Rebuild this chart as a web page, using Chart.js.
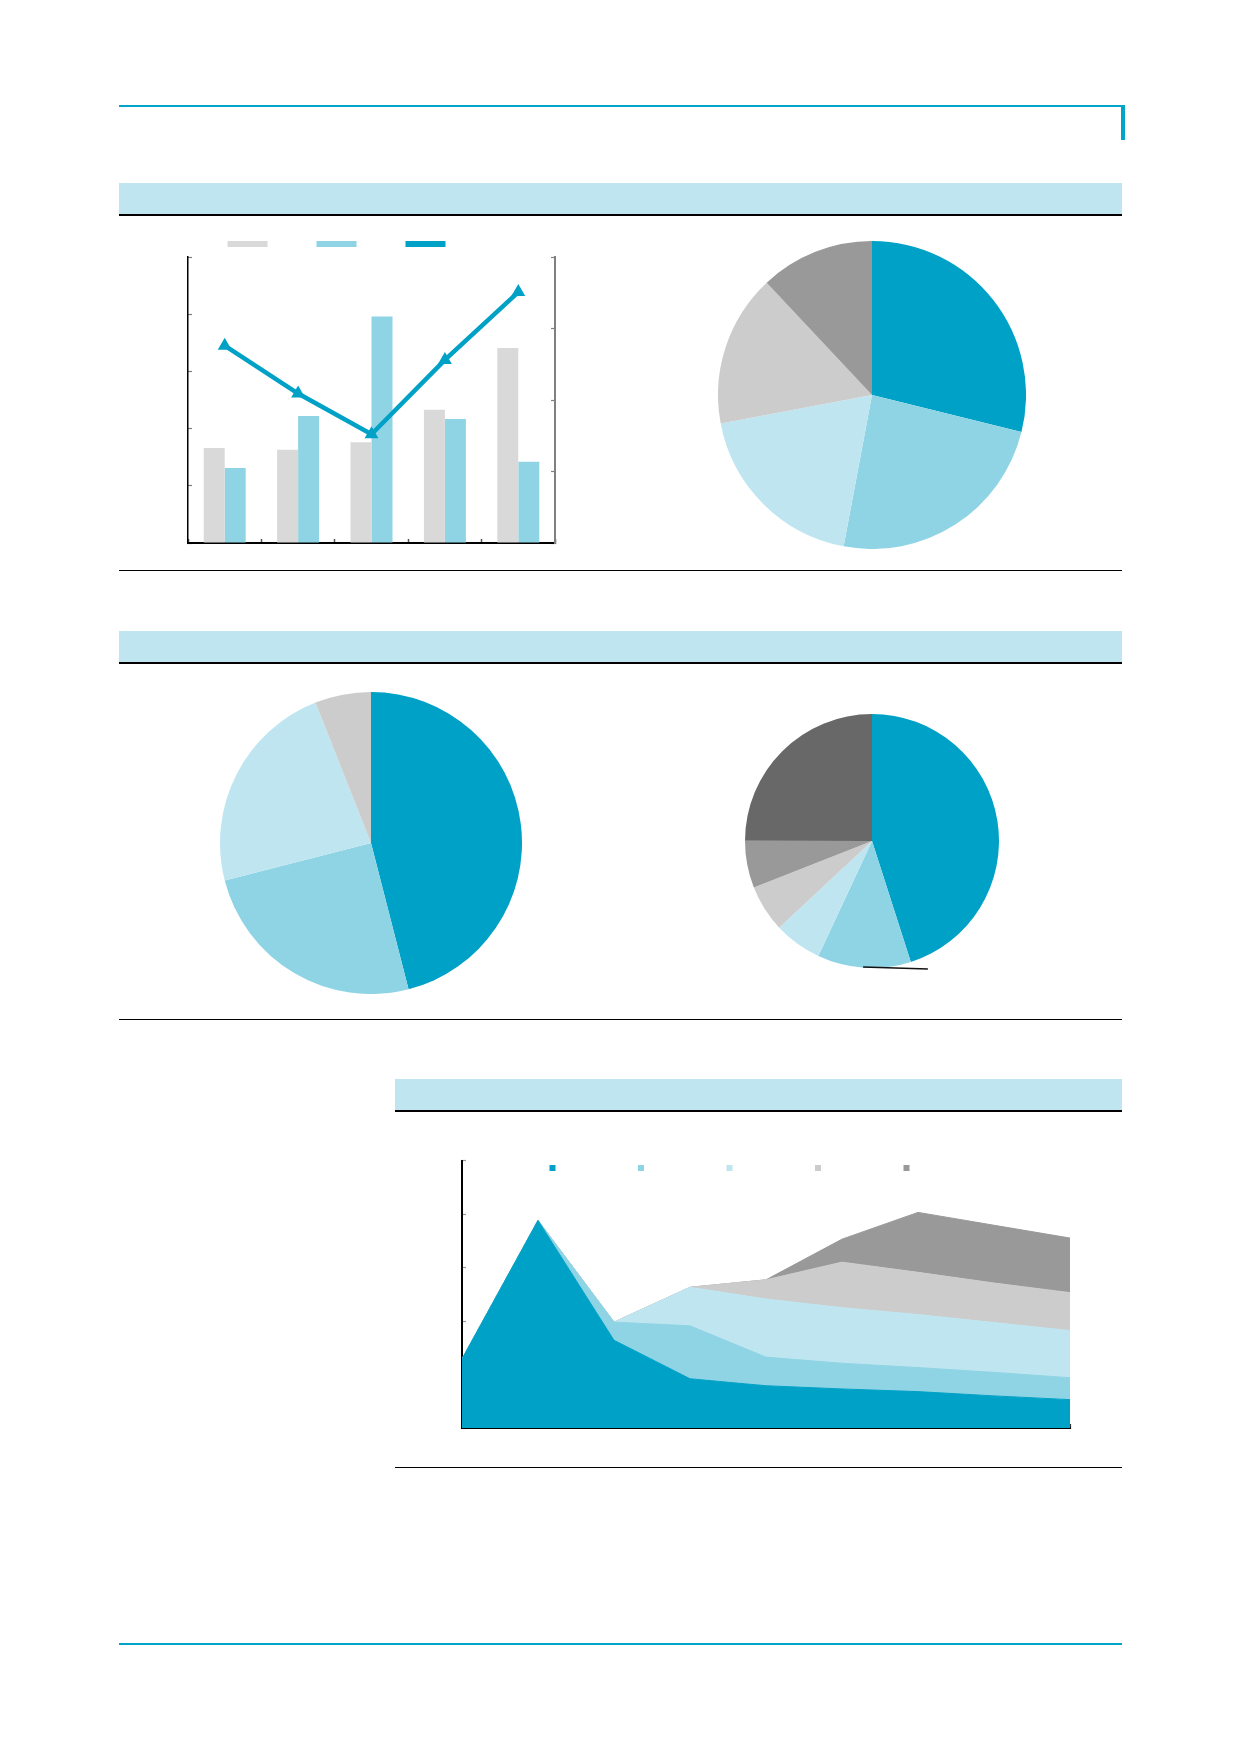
<!DOCTYPE html>
<html>
<head>
<meta charset="utf-8">
<script src="https://cdn.jsdelivr.net/npm/chart.js@4.4.0/dist/chart.umd.min.js"></script>
<style>
  html, body { margin: 0; padding: 0; background: #fff; }
  #page { position: relative; width: 1240px; height: 1754px; overflow: hidden; font-family: "Noto Sans", sans-serif; }
  .r { position: absolute; }
  canvas { position: absolute; }
</style>
</head>
<body>
<div id="page">
  <!-- header -->
  <div class="r" style="left:119px;top:105px;width:1006px;height:2px;background:#00a5c8"></div>
  <div class="r" style="left:1121px;top:105px;width:4px;height:35px;background:#00a5c8"></div>

  <!-- section 1 -->
  <div class="r" style="left:119px;top:183px;width:1003px;height:32px;background:#bfe6f0"></div>
  <div class="r" style="left:119px;top:214px;width:1003px;height:2px;background:#000"></div>
  <div class="r" style="left:119px;top:570px;width:1003px;height:1px;background:#000"></div>

  <!-- section 2 -->
  <div class="r" style="left:119px;top:631px;width:1003px;height:32px;background:#bfe6f0"></div>
  <div class="r" style="left:119px;top:662px;width:1003px;height:2px;background:#000"></div>
  <div class="r" style="left:119px;top:1019px;width:1003px;height:1px;background:#000"></div>

  <!-- section 3 -->
  <div class="r" style="left:395px;top:1079px;width:727px;height:32px;background:#bfe6f0"></div>
  <div class="r" style="left:395px;top:1110px;width:727px;height:2px;background:#000"></div>
  <div class="r" style="left:395px;top:1467px;width:727px;height:1px;background:#000"></div>

  <!-- footer -->
  <div class="r" style="left:119px;top:1643px;width:1003px;height:2px;background:#00a5c8"></div>

  <canvas id="bar" width="444" height="353" style="left:116px;top:195px"></canvas>
  <canvas id="pie1" width="308" height="308" style="left:718px;top:241px"></canvas>
  <canvas id="pie2" width="302" height="302" style="left:220px;top:692px"></canvas>
  <canvas id="pie3" width="274" height="274" style="left:735px;top:704px"></canvas>
  <canvas id="area" width="680" height="370" style="left:395px;top:1062px"></canvas>
</div>

<script>
// ---------- data ----------
const barCategories = ['C1', 'C2', 'C3', 'C4', 'C5'];
const barSeriesGray = [1.66, 1.63, 1.76, 2.33, 3.41];
const barSeriesBlue = [1.31, 2.22, 3.96, 2.17, 1.42];
const lineSeries    = [2.76, 2.09, 1.52, 2.56, 3.51];

const pie1Categories = ['S1', 'S2', 'S3', 'S4', 'S5'];
const pie1Values     = [28.9, 24.1, 19.1, 16.0, 12.0];

const pie2Categories = ['S1', 'S2', 'S3', 'S4'];
const pie2Values     = [46.0, 25.0, 23.0, 6.0];

const pie3Categories = ['S1', 'S2', 'S3', 'S4', 'S5', 'S6'];
const pie3Values     = [45.1, 11.9, 6.1, 6.0, 6.0, 25.0];

const areaCategories = ['P1', 'P2', 'P3', 'P4', 'P5', 'P6', 'P7', 'P8', 'P9'];
const areaSeries1 = [1.29, 3.88, 1.64, 0.92, 0.79, 0.73, 0.68, 0.60, 0.53];
const areaSeries2 = [0, 0, 0.34, 0.99, 0.535, 0.48, 0.45, 0.44, 0.41];
const areaSeries3 = [0, 0, 0, 0.72, 1.085, 1.04, 0.99, 0.93, 0.88];
const areaSeries4 = [0, 0, 0, 0, 0.36, 0.85, 0.79, 0.74, 0.71];
const areaSeries5 = [0, 0, 0, 0, 0, 0.43, 1.12, 1.08, 1.02];

// ---------- colours ----------
const TEAL = '#00a1c6', MID = '#8fd4e4', LIGHT = '#bfe6f0', LGRAY = '#cccccc', MGRAY = '#999999', DGRAY = '#686868', BARGRAY = '#d9d9d9';

Chart.defaults.font.family = '"Noto Sans", sans-serif';

const noStrokeLabels = (chart) => {
  const items = Chart.defaults.plugins.legend.labels.generateLabels(chart);
  items.forEach(i => { i.lineWidth = 0; });
  return items;
};

// ---------- bar + line ----------
new Chart(document.getElementById('bar'), {
  type: 'bar',
  data: {
    labels: barCategories,
    datasets: [
      { label: '', data: barSeriesGray, backgroundColor: BARGRAY, yAxisID: 'y', order: 1,
        categoryPercentage: 0.572, barPercentage: 1.0 },
      { label: '', data: barSeriesBlue, backgroundColor: MID, yAxisID: 'y', order: 1,
        categoryPercentage: 0.572, barPercentage: 1.0 },
      { type: 'line', label: '', data: lineSeries, yAxisID: 'y1', order: 0,
        borderColor: TEAL, backgroundColor: TEAL, borderWidth: 4.5, tension: 0,
        pointStyle: 'triangle', pointRadius: 8, pointBackgroundColor: TEAL,
        pointBorderColor: TEAL, pointBorderWidth: 0 }
    ]
  },
  options: {
    responsive: false, animation: false, events: [],
    layout: { padding: 0, autoPadding: false },
    plugins: {
      tooltip: { enabled: false },
      legend: {
        position: 'top', align: 'center',
        labels: { boxWidth: 40, boxHeight: 6, padding: 46, font: { size: 6 },
          generateLabels: noStrokeLabels, sort: (a, b) => a.datasetIndex - b.datasetIndex }
      }
    },
    scales: {
      x: {
        ticks: { display: false },
        grid: { drawOnChartArea: false, offset: true, tickLength: -4, tickColor: '#555', tickWidth: 1.5 },
        border: { color: '#000', width: 2 },
        afterFit(s) { s.height = 5; }
      },
      y: {
        position: 'left', min: 0, max: 5,
        ticks: { display: false, stepSize: 1 },
        grid: { drawOnChartArea: false, tickLength: -4, tickColor: '#808080', tickWidth: 1.2 },
        border: { color: '#000', width: 1.5 },
        afterFit(s) { s.width = 72; }
      },
      y1: {
        position: 'right', min: 0, max: 4,
        ticks: { display: false, stepSize: 1 },
        grid: { drawOnChartArea: false, tickLength: -4, tickColor: '#808080', tickWidth: 1.2 },
        border: { color: '#808080', width: 2 },
        afterFit(s) { s.width = 5; }
      }
    }
  }
});

// ---------- pies ----------
function makePie(id, labels, values, colors, padding, plugins) {
  return new Chart(document.getElementById(id), {
    type: 'pie',
    data: { labels, datasets: [{ data: values, backgroundColor: colors, borderWidth: 0 }] },
    options: {
      responsive: false, animation: false, events: [],
      layout: { padding },
      plugins: { legend: { display: false }, tooltip: { enabled: false } }
    },
    plugins: plugins || []
  });
}

const leaderLine = {
  id: 'leaderLine',
  afterDatasetsDraw(chart) {
    const arc = chart.getDatasetMeta(0).data[0];
    const { x, y, outerRadius } = arc.getProps(['x', 'y', 'outerRadius'], true);
    const ctx = chart.ctx;
    ctx.save();
    ctx.strokeStyle = '#111';
    ctx.lineWidth = 1.6;
    ctx.beginPath();
    ctx.moveTo(x - outerRadius * 0.07, y + outerRadius - 1);
    ctx.lineTo(x + outerRadius * 0.44, y + outerRadius + 1);
    ctx.stroke();
    ctx.restore();
  }
};

makePie('pie1', pie1Categories, pie1Values, [TEAL, MID, LIGHT, LGRAY, MGRAY], 0);
makePie('pie2', pie2Categories, pie2Values, [TEAL, MID, LIGHT, LGRAY], 0);
makePie('pie3', pie3Categories, pie3Values, [TEAL, MID, LIGHT, LGRAY, MGRAY, DGRAY], 10, [leaderLine]);

// ---------- stacked area ----------
const legendShift = {
  id: 'legendShift',
  afterLayout(chart, args, opts) {
    const lg = chart.legend;
    if (lg) { lg.top += opts.dy; lg.bottom += opts.dy; }
  }
};

const areaColors = [TEAL, MID, LIGHT, LGRAY, MGRAY];
const areaData = [areaSeries1, areaSeries2, areaSeries3, areaSeries4, areaSeries5];

new Chart(document.getElementById('area'), {
  type: 'line',
  data: {
    labels: areaCategories.map((_, i) => i),
    datasets: areaData.map((d, i) => ({
      label: '', data: d,
      backgroundColor: areaColors[i], borderColor: areaColors[i], borderWidth: 1,
      fill: i === 0 ? 'origin' : '-1', pointRadius: 0, tension: 0
    }))
  },
  options: {
    responsive: false, animation: false, events: [],
    layout: { padding: { left: 0, right: 5, top: 0, bottom: 0 } },
    plugins: {
      tooltip: { enabled: false },
      legendShift: { dy: 23.5 },
      legend: {
        position: 'top', align: 'center',
        labels: { boxWidth: 6, boxHeight: 6, padding: 76.5, font: { size: 12 }, generateLabels: noStrokeLabels }
      }
    },
    scales: {
      x: {
        type: 'linear', min: 0, max: areaCategories.length - 1,
        ticks: { display: false, stepSize: 0.5 },
        grid: { drawOnChartArea: false, tickLength: -4, tickWidth: 1.2,
          tickColor: (c) => (c.tick && Number.isInteger(c.tick.value)) ? '#333' : '#999' },
        border: { color: '#000', width: 2 },
        afterFit(s) { s.height = 4; }
      },
      y: {
        stacked: true, min: 0, max: 5,
        ticks: { display: false, stepSize: 1 },
        grid: { drawOnChartArea: false, tickLength: -4, tickColor: '#999', tickWidth: 1.2 },
        border: { color: '#000', width: 2 },
        afterFit(s) { s.width = 67; }
      }
    }
  },
  plugins: [legendShift]
});
</script>
</body>
</html>
